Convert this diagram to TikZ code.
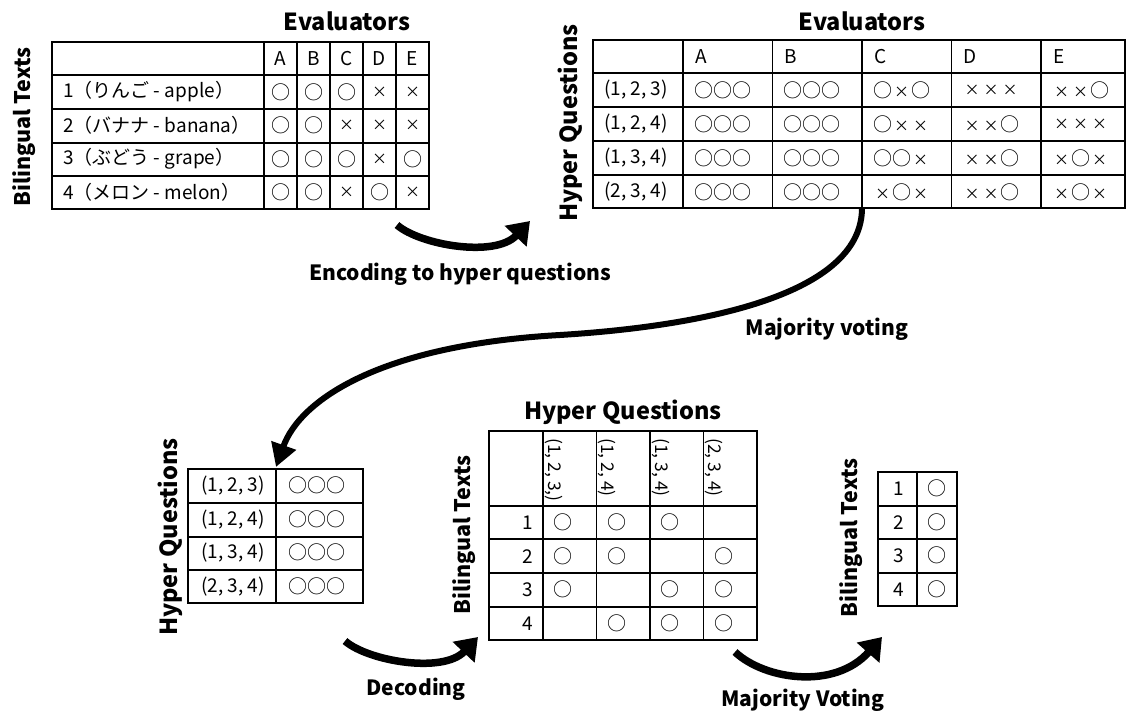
\documentclass[tikz,border=0pt]{standalone}
\usepackage{fontspec}
\setmainfont{Noto Sans CJK JP}
\usetikzlibrary{arrows.meta}
\newcommand\mO{○}
\newcommand\mX{\makebox[1em]{\fontsize{15}{15}\selectfont ×}}
\def\mksym#1{\expandafter\mksymloop#1\relax}
\def\mksymloop#1{\ifx#1\relax\else\csname m#1\endcsname\expandafter\mksymloop\fi}
\tikzset{
  tline/.style={line width=1.1pt, draw=black},
  cell/.style={inner sep=0pt, font=\fontsize{19}{22}\selectfont},
  cellw/.style={cell, anchor=west},
  hcell/.style={inner sep=0pt, font=\fontsize{17.5}{20}\selectfont, rotate=-90, anchor=west},
  lbl/.style={inner sep=0pt, font=\bfseries\fontsize{23.5}{27}\selectfont},
  lblbt/.style={inner sep=0pt, font=\bfseries\fontsize{21.5}{25}\selectfont},
  lblarr/.style={inner sep=0pt, font=\bfseries\fontsize{21}{25}\selectfont},
  flow/.style={line width=7.5pt, -{Triangle[length=21pt,width=29pt]}},
  bigflow/.style={line width=6pt, -{Triangle[length=23pt,width=25pt]}},
}
\begin{document}
\begin{tikzpicture}[x=1pt,y=-1pt]
\useasboundingbox (0,0) rectangle (1126,715);

% ---------- top-left table ----------
\draw[tline] (52,42) rectangle (429,209);
\foreach \y in {75,109,143,176} \draw[tline] (52,\y) -- (429,\y);
\foreach \x in {264,297,330,363,396} \draw[tline] (\x,42) -- (\x,209);
\foreach \t [count=\i] in {A,B,C,D,E}
  \node[cell] (tl-h\i) at ({264+33*(\i-1)+16.5},58.5) {\t};
\node[cellw] (tl-r1) at (63,92) {1（りんご - apple）};
\node[cellw] (tl-r2) at (63,125.5) {2（バナナ - banana）};
\node[cellw] (tl-r3) at (63,159) {3（ぶどう - grape）};
\node[cellw] (tl-r4) at (63,192.5) {4（メロン - melon）};
\foreach \row [count=\r] in {{O,O,O,X,X},{O,O,X,X,X},{O,O,O,X,O},{O,O,X,O,X}} {
  \foreach \s [count=\c] in \row {
    \node[cell] (tl-\r-\c) at ({264+33*(\c-1)+16.5},{75+33.5*(\r-1)+17}) {\csname m\s\endcsname};
  }
}
\node[lbl] (t-eval1) at (347,21) {Evaluators};
\node[lblbt, rotate=90] (t-bt1) at (24,127) {Bilingual Texts};

% ---------- top-right table ----------
\draw[tline] (593,40) rectangle (1125,208);
\foreach \y in {73,107,141,175} \draw[tline] (593,\y) -- (1125,\y);
\foreach \x in {683,772.5,862,951.5,1041} \draw[tline] (\x,40) -- (\x,208);
\foreach \t [count=\i] in {A,B,C,D,E}
  \node[cellw] (tr-h\i) at ({683+89.5*(\i-1)+12},56.5) {\t};
\node[cellw] (tr-r1) at (604,90) {(1, 2, 3)};
\node[cellw] (tr-r2) at (604,124) {(1, 2, 4)};
\node[cellw] (tr-r3) at (604,158) {(1, 3, 4)};
\node[cellw] (tr-r4) at (604,192) {(2, 3, 4)};
\foreach \row [count=\r] in {{OOO,OOO,OXO,XXX,XXO},{OOO,OOO,OXX,XXO,XXX},{OOO,OOO,OOX,XXO,XOX},{OOO,OOO,XOX,XXO,XOX}} {
  \foreach \s [count=\c] in \row {
    \node[cellw] (tr-\r-\c) at ({683+89.5*(\c-1)+11},{73+34*(\r-1)+17}) {\mksym{\s}};
  }
}
\node[lbl] (t-eval2) at (862,21) {Evaluators};
\node[lbl, rotate=90] (t-hq1) at (570,123) {Hyper Questions};

% ---------- bottom-left table ----------
\draw[tline] (188,469) rectangle (363,603);
\foreach \y in {503,537,570} \draw[tline] (188,\y) -- (363,\y);
\draw[tline] (276,469) -- (276,603);
\foreach \t [count=\r] in {{(1, 2, 3)},{(1, 2, 4)},{(1, 3, 4)},{(2, 3, 4)}} {
  \node[cellw] (bl-r\r) at (201,{469+33.5*(\r-1)+16.75}) {\t};
  \node[cellw] (bl-\r) at (288,{469+33.5*(\r-1)+16.75}) {\mO\mO\mO};
}
\node[lbl, rotate=90] (t-hq2) at (170,537) {Hyper Questions};

% ---------- bottom-middle table ----------
\draw[tline] (489,431) rectangle (757,640);
\foreach \y in {506,539,573,607} \draw[tline] (489,\y) -- (757,\y);
\foreach \x in {543,596.5,650,703.5} \draw[tline] (\x,431) -- (\x,640);
\foreach \t [count=\i] in {{(1, 2, 3,)},{(1, 2, 4)},{(1, 3, 4)},{(2, 3, 4)}}
  \node[hcell] (bm-h\i) at ({543+53.5*(\i-1)+10.5},438) {\t};
\foreach \r in {1,2,3,4}
  \node[cell, anchor=east] (bm-r\r) at (533,{506+33.5*(\r-1)+16.75}) {\r};
\foreach \r/\c in {1/1,1/2,1/3,2/1,2/2,2/4,3/1,3/3,3/4,4/2,4/3,4/4}
  \node[cell] (bm-\r-\c) at ({543+53.5*(\c-1)+20},{506+33.5*(\r-1)+16.75}) {\mO};
\node[lbl] (t-hq3) at (623,412) {Hyper Questions};
\node[lblbt, rotate=90] (t-bt2) at (464,535) {Bilingual Texts};

% ---------- bottom-right table ----------
\draw[tline] (878,472) rectangle (957,606);
\foreach \y in {506,539,573} \draw[tline] (878,\y) -- (957,\y);
\draw[tline] (917,472) -- (917,606);
\foreach \r in {1,2,3,4} {
  \node[cell] (br-r\r) at (899,{472+33.5*(\r-1)+16.75}) {\r};
  \node[cell] (br-\r) at (937,{472+33.5*(\r-1)+16.75}) {\mO};
}
\node[lblbt, rotate=90] (t-bt3) at (851,538) {Bilingual Texts};

% ---------- arrows ----------
\coordinate (encS) at (397,225);
\coordinate (encE) at (530,221);
\draw[flow] (encS) .. controls (420,245) and (495,258) .. (encE);
\node[lblarr] (l-enc) at (460,274) {Encoding to hyper questions};

\coordinate (bigS) at (862,208);
\coordinate (bigM) at (560,335);
\coordinate (bigE) at (276,467);
\draw[bigflow] (bigS) .. controls (862,290) and (720,325) .. (bigM)
               .. controls (380,345) and (300,400) .. (bigE);
\node[lblarr] (l-mv1) at (827,329) {Majority voting};

\coordinate (decS) at (345,641);
\coordinate (decE) at (478,637);
\draw[flow] (decS) .. controls (368,661) and (443,674) .. (decE);
\node[lblarr] (l-dec) at (416,689) {Decoding};

\coordinate (mvS) at (735,652);
\coordinate (mvE) at (882,637);
\draw[flow] (mvS) .. controls (765,680) and (835,690) .. (mvE);
\node[lblarr] (l-mv2) at (803,700) {Majority Voting};
\end{tikzpicture}
\end{document}
